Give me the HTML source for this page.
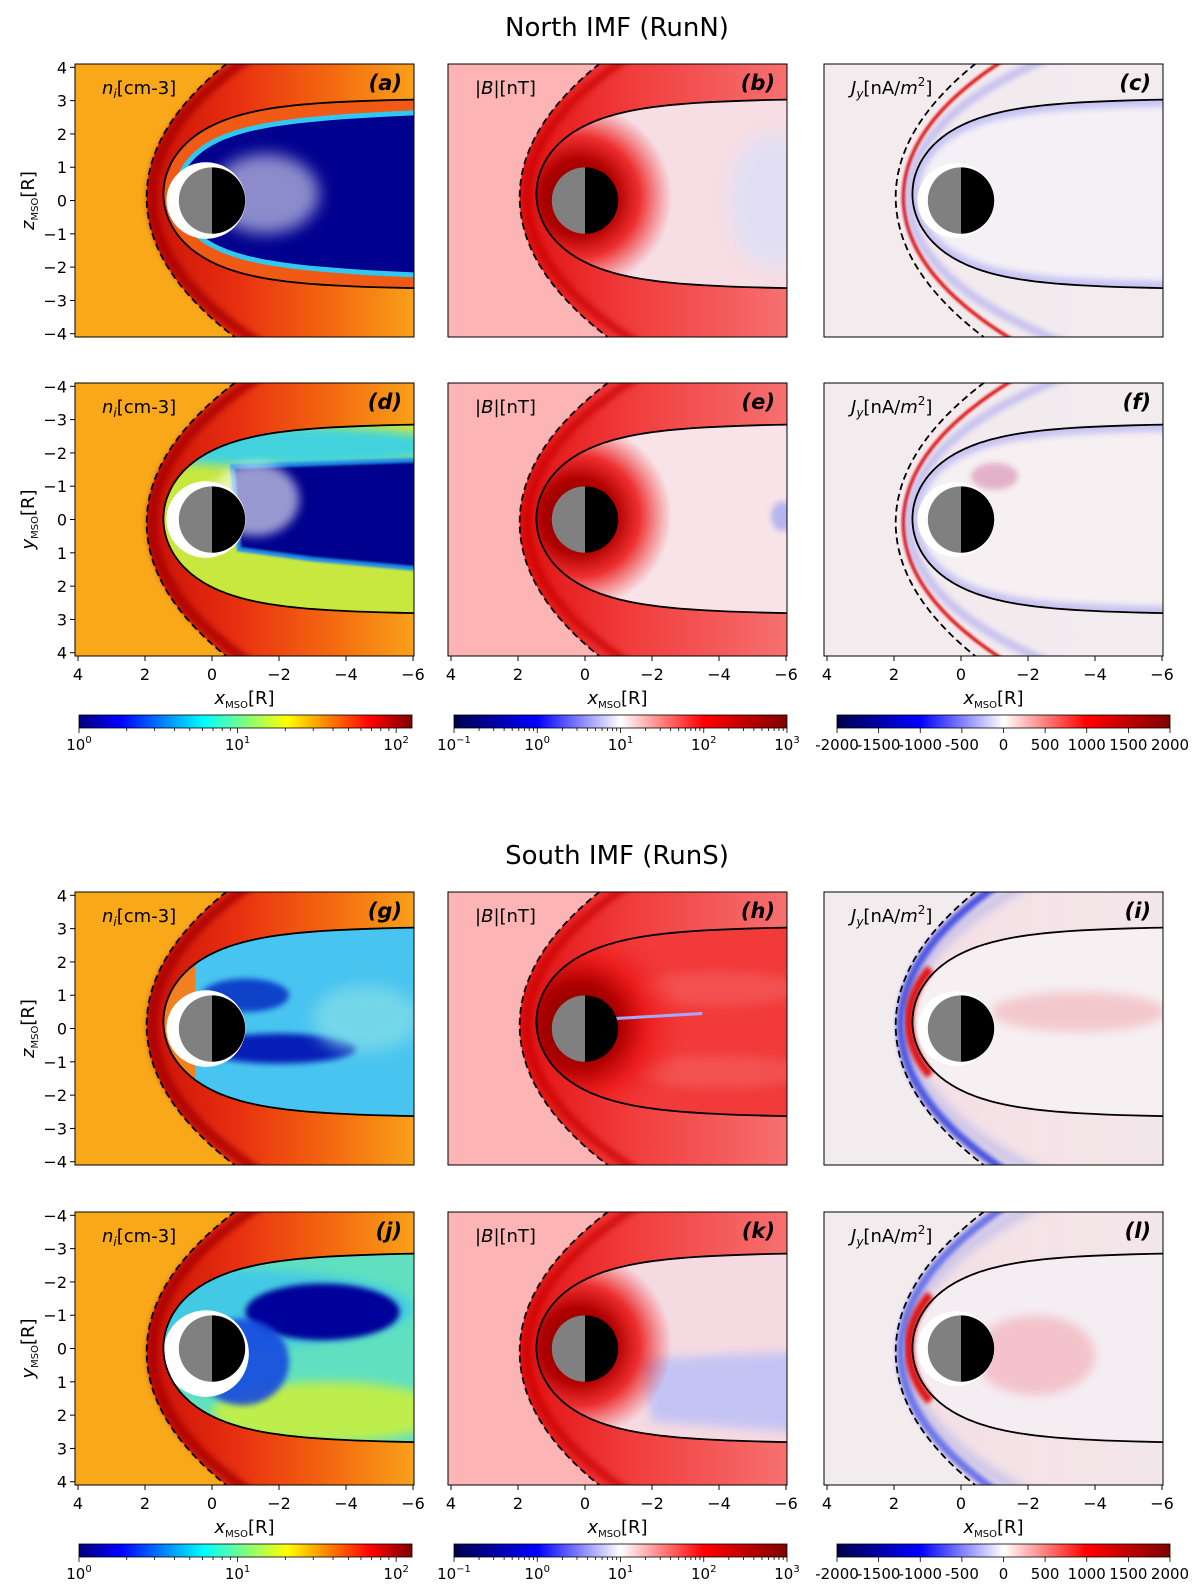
<!DOCTYPE html>
<html><head><meta charset="utf-8">
<style>
html,body{margin:0;padding:0;background:#fff;}
svg{display:block;font-family:"DejaVu Sans","Liberation Sans",sans-serif;}
</style></head>
<body>
<svg id="fig" width="1200" height="1594" viewBox="0 0 1200 1594" xmlns="http://www.w3.org/2000/svg">
<defs id="defs">
<filter id="b1" x="-20%" y="-20%" width="140%" height="140%"><feGaussianBlur stdDeviation="1"/></filter>
<filter id="b2" x="-20%" y="-20%" width="140%" height="140%"><feGaussianBlur stdDeviation="2"/></filter>
<filter id="b3" x="-20%" y="-20%" width="140%" height="140%"><feGaussianBlur stdDeviation="3"/></filter>
<filter id="b5" x="-30%" y="-30%" width="160%" height="160%"><feGaussianBlur stdDeviation="5"/></filter>
<filter id="b8" x="-30%" y="-30%" width="160%" height="160%"><feGaussianBlur stdDeviation="8"/></filter>
<linearGradient id="cbJet" x1="0" x2="1" y1="0" y2="0">
<stop offset="0" stop-color="#00007f"/><stop offset="0.125" stop-color="#0000ff"/><stop offset="0.375" stop-color="#00ffff"/><stop offset="0.625" stop-color="#ffff00"/><stop offset="0.875" stop-color="#ff0000"/><stop offset="1" stop-color="#7f0000"/>
</linearGradient>
<linearGradient id="cbSeis" x1="0" x2="1" y1="0" y2="0">
<stop offset="0" stop-color="#00004c"/><stop offset="0.25" stop-color="#0000ff"/><stop offset="0.5" stop-color="#ffffff"/><stop offset="0.75" stop-color="#ff0000"/><stop offset="1" stop-color="#800000"/>
</linearGradient>
<radialGradient id="coreRed">
<stop offset="0" stop-color="#700000"/><stop offset="0.4" stop-color="#b00000"/><stop offset="0.65" stop-color="#ec1a1a" stop-opacity="0.9"/><stop offset="1" stop-color="#f03030" stop-opacity="0"/>
</radialGradient>
</defs>
<text x="617" y="36" font-size="26" text-anchor="middle">North IMF (RunN)</text>
<text x="617" y="864" font-size="26" text-anchor="middle">South IMF (RunS)</text>
</svg>
<script>
const xTicks=[4,2,0,-2,-4,-6];
const zTickVals=[4,3,2,1,0,-1,-2,-3,-4];
const yTickVals=[-4,-3,-2,-1,0,1,2,3,4];
const panelLetters=['a','b','c','d','e','f','g','h','i','j','k','l'];
const cbJetDecades=[0,1,2];
const cbJetRange=[0,2.1];
const cbSeisDecades=[-1,0,1,2,3];
const cbSeisRange=[-1,3];
const cbJVals=[-2000,-1500,-1000,-500,0,500,1000,1500,2000];
const cbJRange=[-2000,2000];
const bowR0=1.95, bowAlpha=0.9;
const mpR0=1.45, mpAlpha=0.5;

const NS='http://www.w3.org/2000/svg';
const svg=document.getElementById('fig');
const defs=document.getElementById('defs');
function mk(tag,attrs,parent){const e=document.createElementNS(NS,tag);for(const k in attrs)e.setAttribute(k,attrs[k]);(parent||svg).appendChild(e);return e;}
const fmt=v=>(v<0?'\u2212'+Math.abs(v):''+v);

const rows=[{top:64,kind:'z',imf:'N',u0mp:0.2,u0b:0.1},{top:383,kind:'y',imf:'N',u0mp:0.02,u0b:-0.1},
            {top:892,kind:'z',imf:'S',u0mp:0.2,u0b:0.1},{top:1212,kind:'y',imf:'S',u0mp:0.02,u0b:-0.1}];
const cols=[{left:75},{left:448},{left:824}];
const PW=339, PH=273;

function build(ri,ci){
  const R=rows[ri],C=cols[ci],L=C.left,T=R.top;
  const px=x=>L+(4.09-x)*33.5, py=u=>T+(4.1-u)*33.3;
  const id='p'+ri+ci;
  function shue(r0,a,u0,tmax,close,tmin){const n=160;let s='';const t0=(tmin===undefined?-tmax:tmin);
    for(let i=0;i<=n;i++){const th=(t0+(tmax-t0)*i/n)*Math.PI/180;const r=r0*Math.pow(2/(1+Math.cos(th)),a);
      s+=(i?'L':'M')+px(r*Math.cos(th)).toFixed(1)+','+py(u0+r*Math.sin(th)).toFixed(1);}
    return s+(close?'Z':'');}
  const cp=mk('clipPath',{id:'clip'+id},defs);mk('rect',{x:L,y:T,width:PW,height:PH},cp);
  const mpPath=shue(mpR0,mpAlpha,R.u0mp,168,true);
  const cm=mk('clipPath',{id:'cm'+id},defs);mk('path',{d:mpPath},cm);
  const g=mk('g',{'clip-path':'url(#clip'+id+')'});
  
  
  const bg={0:'#f8a818',1:'#fcb4b4',2:'#f2ecef'}[ci];
  mk('rect',{x:L,y:T,width:PW,height:PH,fill:bg},g);
  const gr=mk('linearGradient',{id:'sg'+id,gradientUnits:'userSpaceOnUse',x1:px(2),x2:px(-6),y1:0,y2:0},defs);
  const stops=ci==0?[[0,'#c81008'],[0.35,'#e83010'],[0.7,'#f46a10'],[1,'#f8a018']]:
              ci==1?[[0,'#e01010'],[0.4,'#f03a3a'],[1,'#f77070']]:
              (R.imf=='S'?[[0,'#f4dfe4'],[1,'#f3e6ea']]:[[0,'#f3eaee'],[1,'#f2ecef']]);
  stops.forEach(s=>mk('stop',{offset:s[0],'stop-color':s[1]},gr));
  const bowClosed=shue(bowR0,bowAlpha,R.u0b,140,true);
  const sh=mk('path',{d:bowClosed,fill:'url(#sg'+id+')'},g);
  
  
  if(ci==0){mk('path',{d:shue(1.78,0.9,R.u0b,130),fill:'none',stroke:'#a80000','stroke-width':10,opacity:0.8,filter:'url(#b3)'},g);}
  if(ci==1){mk('path',{d:shue(1.72,0.9,R.u0b,130),fill:'none',stroke:'#c80000','stroke-width':8,opacity:0.7,filter:'url(#b3)'},g);}
  if(ci==2){
    if(R.imf=='N'){mk('path',{d:shue(1.72,0.88,R.u0b,130),fill:'none',stroke:'#e01818','stroke-width':3.5,filter:'url(#b1)'},g);
      mk('path',{d:shue(1.55,0.8,R.u0b,130),fill:'none',stroke:'#8080f0','stroke-width':8,opacity:0.4,filter:'url(#b3)'},g);}
    else{mk('path',{d:shue(1.8,0.9,R.u0b,130),fill:'none',stroke:ri==2?'#2838e0':'#5060e8','stroke-width':8,opacity:0.85,filter:'url(#b2)'},g);
      mk('path',{d:shue(1.65,0.85,R.u0b,130),fill:'none',stroke:'#7080f0','stroke-width':10,opacity:0.35,filter:'url(#b5)'},g);}
  }
  const mpFill={0:['#f05a14','#c8e840','#f08020','#60e0c0'],1:['#f7dde4','#f8e4e8','#f23a3a','#f6dae2'],2:['#f4f0f6','#f6f0f2','#f6f0f2','#f4eef2']}[ci][ri];
  const ms=mk('path',{d:mpPath,fill:mpFill},g);
  
  
  const gi=mk('g',{'clip-path':'url(#cm'+id+')'},g);
  const ell=(x,u,rx,ru,f,op,fl)=>mk('ellipse',{cx:px(x),cy:py(u),rx:rx*33.5,ry:ru*33.3,fill:f,opacity:op||1,filter:fl?'url(#'+fl+')':''},gi);
  if(ci==0){
    if(ri==0){mk('path',{d:shue(1.05,0.55,0.2,168,true),fill:'#00008e',stroke:'#30c8f0','stroke-width':5},gi);
      ell(-1.6,0.2,1.6,1.2,'#ffffff',0.55,'b8');}
    if(ri==1){ell(-2,2.2,5,0.6,'#30d0f0',0.9,'b5');
      mk('path',{d:'M'+px(-0.6)+','+py(1.6)+'L'+px(-6.3)+','+py(1.8)+'L'+px(-6.3)+','+py(-1.5)+'L'+px(-3)+','+py(-1.2)+'L'+px(-0.8)+','+py(-0.9)+'Z',fill:'#00008e',stroke:'#2090f0','stroke-width':4,filter:'url(#b1)'},gi);
      ell(-1.3,0.6,1.3,1.1,'#ffffff',0.6,'b5');}
    if(ri==2){mk('rect',{x:px(0.5),y:T,width:PW,height:PH,fill:'#48c4f0'},gi);
      ell(-2,-0.6,2.3,0.45,'#0010b0',0.9,'b3');ell(-1,1.0,1.3,0.5,'#0020c0',0.8,'b3');ell(-4.6,0.3,1.6,1.0,'#80dce8',0.8,'b8');}
    if(ri==3){ell(0,1.2,6,1.2,'#40c8e8',0.9,'b5');ell(-3.3,1.1,2.3,0.85,'#00009a',1,'b3');ell(-3.5,-1.9,3.5,0.9,'#c8f040',0.9,'b5');ell(-0.9,-0.4,1.4,1.3,'#1848e0',0.9,'b3');}
    ell(0.18,ri==3?-0.15:0,ri==3?1.28:1.18,ri==3?1.3:1.15,'#ffffff',1);
  }
  if(ci==1){
    if(ri==0)ell(-5.6,0,1.3,2,'#e0e0f6',0.9,'b8');
    if(ri==1)ell(-5.9,0.1,0.35,0.45,'#b0b0f0',0.9,'b3');
    if(ri==3)mk('path',{d:'M'+px(-1.6)+','+py(-0.3)+'L'+px(-6.3)+','+py(-0.1)+'L'+px(-6.3)+','+py(-2.5)+'L'+px(-2)+','+py(-2.2)+'Z',fill:'#c4c4f4',filter:'url(#b5)'},gi);
    if(ri==2){ell(-4,1.2,2.5,0.5,'#f46060',0.6,'b5');ell(-4,-1.3,2.5,0.5,'#f46060',0.6,'b5');}
    const rr=ri==2?3.2:2.8;
    mk('ellipse',{cx:px(0.2),cy:py(0.1),rx:rr*33.5,ry:rr*33.3,fill:'url(#coreRed)'},gi);
    if(ri==2)mk('path',{d:'M'+px(-0.9)+','+py(0.3)+'L'+px(-3.5)+','+py(0.45),stroke:'#a8a8f8','stroke-width':3,fill:'none'},gi);
  }
  if(ci==2){
    if(R.imf=='N'){mk('path',{d:mpPath,fill:'none',stroke:'#6060f0','stroke-width':14,opacity:0.3,filter:'url(#b3)'},gi);
      if(ri==1)ell(-1,1.3,0.7,0.4,'#c04080',0.35,'b3');}
    else{mk('path',{d:shue(1.55,0.6,R.u0mp,60,false),fill:'none',stroke:'#e00000','stroke-width':9,opacity:0.9,filter:'url(#b2)'},g);
      if(ri==2){ell(-3.5,0.5,2.6,0.6,'#f0a0a8',0.5,'b5');mk('path',{d:'M'+px(-0.9)+','+py(0.15)+'L'+px(-3.5)+','+py(0.15),stroke:'#d00000','stroke-width':4,fill:'none',filter:'url(#b1)'},gi);}
      else ell(-2.2,-0.2,1.8,1.2,'#f3b0bb',0.7,'b5');}
    ell(0.15,0,1.15,1.12,'#ffffff',1);
  }
  const bs=mk('path',{d:shue(bowR0,bowAlpha,R.u0b,140),fill:'none',stroke:'#000','stroke-width':1.8,'stroke-dasharray':'7,4'},g);
  
  
  const mpl=mk('path',{d:shue(mpR0,mpAlpha,R.u0mp,168),fill:'none',stroke:'#000','stroke-width':1.8},g);
  
  
  const cx=px(0),cy=py(0),pr=33.2;
  const pg=mk('g',{},g);
  
  
  mk('path',{d:`M${cx},${cy-pr}A${pr},${pr} 0 0 0 ${cx},${cy+pr}Z`,fill:'#808080'},pg);
  mk('path',{d:`M${cx},${cy-pr}A${pr},${pr} 0 0 1 ${cx},${cy+pr}Z`,fill:'#000'},pg);
  const fr=mk('rect',{x:L,y:T,width:PW,height:PH,fill:'none',stroke:'#000','stroke-width':1});
  
  
  const ql=mk('text',{x:L+27,y:T+30,'font-size':18});
  
  
  if(ci==0)ql.innerHTML='<tspan font-style="italic">n</tspan><tspan font-style="italic" font-size="12" dy="4">i</tspan><tspan dy="-4">[cm-3]</tspan>';
  if(ci==1)ql.innerHTML='|<tspan font-style="italic">B</tspan>|[nT]';
  if(ci==2)ql.innerHTML='<tspan font-style="italic">J</tspan><tspan font-style="italic" font-size="12" dy="4">y</tspan><tspan dy="-4">[nA/</tspan><tspan font-style="italic">m</tspan><tspan font-size="12" dy="-8">2</tspan><tspan dy="8">]</tspan>';
  const pl=mk('text',{x:L+PW-12,y:T+26,'font-size':21,'font-weight':'bold','font-style':'italic','text-anchor':'end'});
  pl.textContent='('+panelLetters[ri*3+ci]+')';
  
  
  if(ci==0){
    const vals=R.kind=='z'?zTickVals:yTickVals;
    vals.forEach(v=>{const u=R.kind=='z'?v:-v;const y=py(u);
      mk('line',{x1:L-5,x2:L,y1:y,y2:y,stroke:'#000','stroke-width':1});
      const t=mk('text',{x:L-8,y:y+6,'font-size':16,'text-anchor':'end'});t.textContent=fmt(v);
      
      });
    const yl=mk('text',{transform:`translate(34,${T+PH/2}) rotate(-90)`,'font-size':18,'text-anchor':'middle'});
    yl.innerHTML='<tspan font-style="italic">'+R.kind+'</tspan><tspan font-size="10" dy="4">MSO</tspan><tspan dy="-4">[R]</tspan>';
    
    
  }
  if(R.kind=='y'){
    xTicks.forEach(v=>{const x=px(v);mk('line',{x1:x,x2:x,y1:T+PH,y2:T+PH+5,stroke:'#000','stroke-width':1});
      const t=mk('text',{x:x,y:T+PH+24,'font-size':16,'text-anchor':'middle'});t.textContent=fmt(v);
      
      });
    const xl=mk('text',{x:L+PW/2,y:T+PH+48,'font-size':18,'text-anchor':'middle'});
    xl.innerHTML='<tspan font-style="italic">x</tspan><tspan font-size="10" dy="4">MSO</tspan><tspan dy="-4">[R]</tspan>';
    
    
  }
}
for(let r=0;r<4;r++)for(let c=0;c<3;c++)build(r,c);

function colorbar(ci,top){
  const X=[79,454,837][ci],W=333,H=13;
  const g=mk('g',{});
  
  
  mk('rect',{x:X,y:top,width:W,height:H,fill:ci==0?'url(#cbJet)':'url(#cbSeis)',stroke:'#000','stroke-width':0.8},g);
  const tick=(f,len)=>mk('line',{x1:X+f*W,x2:X+f*W,y1:top+H,y2:top+H+len,stroke:'#000','stroke-width':0.8},g);
  const lab=(f,html)=>{const t=mk('text',{x:X+f*W,y:top+H+22,'font-size':15,'text-anchor':'middle'},g);t.innerHTML=html;};
  if(ci<2){const dec=ci==0?cbJetDecades:cbSeisDecades,rg=ci==0?cbJetRange:cbSeisRange;
    const fr=v=>(v-rg[0])/(rg[1]-rg[0]);
    dec.forEach(d=>{tick(fr(d),5);lab(fr(d),'10<tspan font-size="10" dy="-7">'+fmt(d)+'</tspan>');
      for(let m=2;m<10;m++){const f=fr(d+Math.log10(m));if(f<=1.001)tick(f,3);}});}
  else{const fr=v=>(v-cbJRange[0])/(cbJRange[1]-cbJRange[0]);
    cbJVals.forEach(v=>{tick(fr(v),5);lab(fr(v),v<0?'-'+Math.abs(v):''+v);});}
}
[0,1,2].forEach(c=>{colorbar(c,715);colorbar(c,1544);});
</script>
</body></html>
